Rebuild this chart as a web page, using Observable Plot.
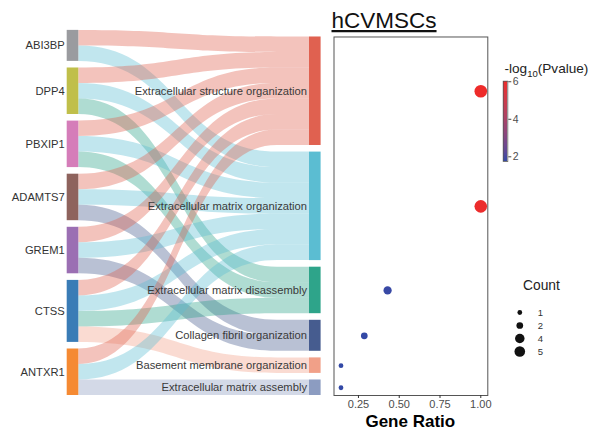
<!DOCTYPE html>
<html><head><meta charset="utf-8">
<script src="https://cdn.jsdelivr.net/npm/d3@7"></script>
<script src="https://cdn.jsdelivr.net/npm/@observablehq/plot@0.6"></script>
<style>
body{margin:0;background:#fff;font-family:"Liberation Sans",Arial,sans-serif;}
#root{position:relative;width:614px;height:432px;overflow:hidden;background:#fff}
#root svg{position:absolute;background:transparent;max-width:none}
</style></head><body><div id="root"></div>
<script>
// ---- data ----
const genes = ["ABI3BP","DPP4","PBXIP1","ADAMTS7","GREM1","CTSS","ANTXR1"];
const geneColors = ["#9a9b9f","#c0bf4a","#d57db9","#8e635d","#9b6fb3","#3a7cb6","#f58a33"];
const terms = ["Extracellular structure organization","Extracellular matrix organization","Extracellular matrix disassembly","Collagen fibril organization","Basement membrane organization","Extracellular matrix assembly"];
const termColors = ["#e06150","#5bbdd2","#2ea48a","#465c8f","#f1a088","#8c9cc1"];
const links = [
  ["ABI3BP","Extracellular structure organization"],["ABI3BP","Extracellular matrix organization"],
  ["DPP4","Extracellular structure organization"],["DPP4","Extracellular matrix organization"],["DPP4","Extracellular matrix disassembly"],
  ["PBXIP1","Extracellular structure organization"],["PBXIP1","Extracellular matrix organization"],["PBXIP1","Extracellular matrix disassembly"],
  ["ADAMTS7","Extracellular structure organization"],["ADAMTS7","Extracellular matrix organization"],["ADAMTS7","Collagen fibril organization"],
  ["GREM1","Extracellular structure organization"],["GREM1","Extracellular matrix organization"],["GREM1","Collagen fibril organization"],
  ["CTSS","Extracellular structure organization"],["CTSS","Extracellular matrix organization"],["CTSS","Extracellular matrix disassembly"],["CTSS","Basement membrane organization"],
  ["ANTXR1","Extracellular structure organization"],["ANTXR1","Extracellular matrix organization"],["ANTXR1","Extracellular matrix assembly"]
];
const geneRatio = [1.0, 1.0, 0.4286, 0.2857, 0.1429, 0.1429];
const termCount = [7, 7, 3, 2, 1, 1];
const negLog10P = [6.03, 5.98, 1.80, 1.76, 1.75, 1.75];
const xTicks = [0.25, 0.5, 0.75, 1.0];
const pTicks = [2, 4, 6];
const countLegend = [1, 2, 4, 5];

// ---- layout (sankey stacking in flow units) ----
const GAP = 0.426, U = 15.5, BOTTOM = 395, H = 432;
const L = links.length + (genes.length - 1) * GAP;
const R = links.length + (terms.length - 1) * GAP;
const flows = links.map(([g, t], k) => ({k, g, t, gi: genes.indexOf(g), ti: terms.indexOf(t)}));
let cur = L;
const geneNodes = genes.map(g => {
  const fl = flows.filter(f => f.g === g).sort((a, b) => a.ti - b.ti);
  const top = cur;
  fl.forEach(f => { f.l2 = cur; f.l1 = cur - 1; cur -= 1; });
  const node = {name: g, top, bottom: cur};
  cur -= GAP;
  return node;
});
cur = R;
const termNodes = terms.map(t => {
  const fl = flows.filter(f => f.t === t).sort((a, b) => a.gi - b.gi);
  const top = cur;
  fl.forEach(f => { f.r2 = cur; f.r1 = cur - 1; cur -= 1; });
  const node = {name: t, top, bottom: cur};
  cur -= GAP;
  return node;
});
const ribbons = flows.flatMap(f => [
  {k: f.k, t: f.t, x: 0, y1: f.l1, y2: f.l2},
  {k: f.k, t: f.t, x: 0.86, y1: f.r1, y2: f.r2},
  {k: f.k, t: f.t, x: 1, y1: f.r1, y2: f.r2}
]);
const termStats = terms.map((t, i) => ({
  term: t, ratio: geneRatio[i], count: termCount[i], p: negLog10P[i],
  yc: (termNodes[i].top + termNodes[i].bottom) / 2
}));

const FONT = '"Liberation Sans", Arial, sans-serif';
const NW = 11.6 / 230.7;
const root = document.getElementById("root");
function place(svg, left, top) { svg.style.left = left + "px"; svg.style.top = top + "px"; root.appendChild(svg); }

// ---- sankey ----
const sankey = Plot.plot({
  width: 330, height: H,
  marginLeft: 78.3, marginRight: 21, marginTop: BOTTOM - L * U, marginBottom: H - BOTTOM,
  x: {domain: [0, 1], axis: null},
  y: {domain: [0, L], axis: null},
  color: {domain: genes.concat(terms), range: geneColors.concat(termColors)},
  style: {fontFamily: FONT, fontSize: "11.2px", background: "transparent", color: "#333"},
  marks: [
    Plot.areaY(ribbons, {x: "x", y1: "y1", y2: "y2", z: "k", fill: "t", fillOpacity: 0.38, curve: "bump-x"}),
    Plot.rect(geneNodes, {x1: () => -NW, x2: () => 0, y1: "bottom", y2: "top", fill: "name"}),
    Plot.rect(termNodes, {x1: () => 1, x2: () => 1 + NW, y1: "bottom", y2: "top", fill: "name"}),
    Plot.text(geneNodes, {x: () => -NW, y: d => (d.top + d.bottom) / 2, text: "name", textAnchor: "end", dx: -2.5, fill: "#333"}),
    Plot.text(termNodes, {x: () => 1, y: d => (d.top + d.bottom) / 2, text: "name", textAnchor: "end", dx: -2.5, fill: "#3a3a3a"})
  ]
});
place(sankey, 0, 0);

// ---- dot plot ----
const colorScale = {type: "linear", domain: [1.75, 6.03], range: ["#3349a6", "#ee2b2a"], interpolate: "lab"};
const rScale = {domain: [0, 7], range: [0, 6.3]};
const dotPlot = Plot.plot({
  width: 292, height: H,
  marginLeft: 333.5 - 322, marginRight: 614 - 487.3, marginTop: BOTTOM - R * U, marginBottom: H - BOTTOM,
  x: {domain: [0.1, 1.043]},
  y: {domain: [0, R], axis: null},
  color: colorScale, r: rScale,
  style: {fontFamily: FONT, fontSize: "11px", background: "transparent", color: "#4d4d4d"},
  marks: [
    Plot.frame({stroke: "#555", strokeWidth: 1}),
    Plot.axisX({ticks: xTicks, tickFormat: d3.format(".2f"), tickSize: 3, tickPadding: 2, label: null, stroke: "#333", fill: "#4d4d4d"}),
    Plot.dot(termStats, {x: "ratio", y: "yc", r: "count", fill: "p", stroke: null})
  ]
});
place(dotPlot, 322, 0);

// ---- colour bar ----
const STEP = 0.05;
const steps = d3.range(1.75, 6.03, STEP);
const cbar = Plot.plot({
  width: 45, height: 100,
  marginLeft: 7.7, marginRight: 45 - 12.3, marginTop: 10.7, marginBottom: 9,
  x: {domain: [0, 1], axis: null},
  y: {domain: [1.75, 6.03], axis: null},
  color: colorScale,
  style: {fontFamily: FONT, fontSize: "10.5px", background: "transparent", color: "#4d4d4d"},
  marks: [
    Plot.rect(steps, {x1: () => 0, x2: () => 1, y1: d => d, y2: d => Math.min(d + STEP * 1.5, 6.03), fill: d => d + STEP / 2, shapeRendering: "crispEdges"}),
    Plot.frame({stroke: "#555", strokeWidth: 0.8}),
    Plot.axisY({anchor: "right", ticks: pTicks, tickFormat: d3.format("d"), tickSize: 3, tickPadding: 2, label: null, stroke: "#444", fill: "#4d4d4d"})
  ]
});
place(cbar, 495, 70);

// ---- size legend ----
const sizeLeg = Plot.plot({
  width: 60, height: 75,
  marginLeft: 14.3, marginRight: 30, marginTop: 10, marginBottom: 75 - 62.3,
  x: {domain: [0, 1], axis: null},
  y: {type: "point", domain: countLegend, axis: null},
  r: rScale,
  style: {fontFamily: FONT, fontSize: "9.5px", background: "transparent", color: "#333"},
  marks: [
    Plot.dot(countLegend, {x: () => 0, y: d => d, r: d => d, fill: "#111", stroke: null}),
    Plot.text(countLegend, {x: () => 0, y: d => d, text: d => String(d), textAnchor: "start", dx: 18, fill: "#333"})
  ]
});
place(sizeLeg, 505, 295);

// ---- titles ----
const ov = d3.select(root).append("svg").attr("width", 614).attr("height", 432)
  .style("left", "0px").style("top", "0px").style("pointer-events", "none")
  .attr("font-family", FONT);
ov.append("text").attr("x", 331.5).attr("y", 28).attr("font-size", 22.5).attr("fill", "#111")
  .attr("text-decoration", "underline").text("hCVMSCs");
const lg = ov.append("text").attr("x", 504.5).attr("y", 73).attr("font-size", 13.6).attr("fill", "#222");
lg.append("tspan").text("-log");
lg.append("tspan").attr("font-size", 9.5).attr("dy", 3.5).text("10");
lg.append("tspan").attr("dy", -3.5).text("(Pvalue)");
ov.append("text").attr("x", 523).attr("y", 290).attr("font-size", 13.8).attr("fill", "#222").text("Count");
ov.append("text").attr("x", 410.3).attr("y", 427).attr("font-size", 17).attr("font-weight", "bold")
  .attr("text-anchor", "middle").attr("fill", "#000").text("Gene Ratio");
</script></body></html>
